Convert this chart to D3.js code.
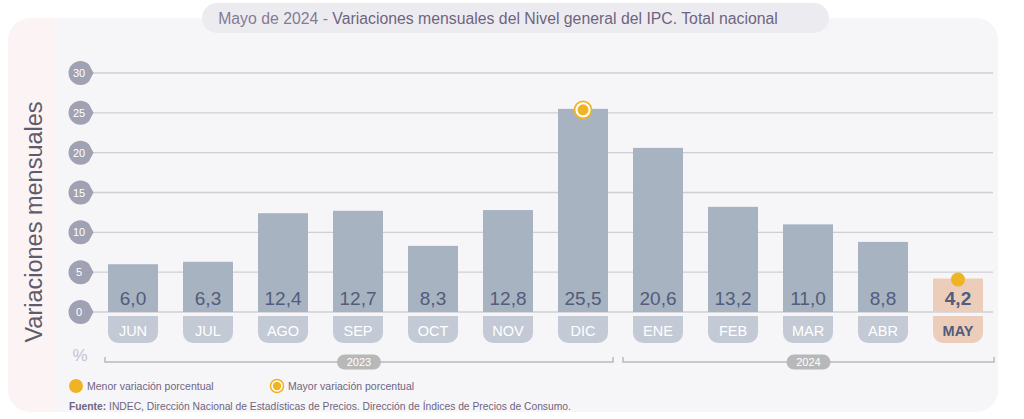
<!DOCTYPE html>
<html>
<head>
<meta charset="utf-8">
<script src="https://cdn.jsdelivr.net/npm/d3@7"></script>
<style>
  html, body { margin: 0; padding: 0; background: #fff; }
  svg { display: block; font-family: "Liberation Sans", Arial, sans-serif; }
</style>
</head>
<body>
<svg id="chart" width="1024" height="419"></svg>
<script>
const months = ['JUN', 'JUL', 'AGO', 'SEP', 'OCT', 'NOV', 'DIC', 'ENE', 'FEB', 'MAR', 'ABR', 'MAY'];
const values = [6.0, 6.3, 12.4, 12.7, 8.3, 12.8, 25.5, 20.6, 13.2, 11.0, 8.8, 4.2];
const yTicks = [0, 5, 10, 15, 20, 25, 30];
const years = [
  { label: '2023', from: 'JUN', to: 'DIC' },
  { label: '2024', from: 'ENE', to: 'MAY' }
];
const minMonth = 'MAY';
const maxMonth = 'DIC';

const svg = d3.select('#chart');
const textCol = '#6f6480';
const fmt = v => d3.format('.1f')(v).replace('.', ',');

// card
svg.append('rect').attr('x', 8).attr('y', 18).attr('width', 990).attr('height', 394)
  .attr('rx', 22).attr('fill', '#fcf4f4');
svg.append('path')
  .attr('d', 'M55,18 H976 A22,22 0 0 1 998,40 V390 A22,22 0 0 1 976,412 H55 Z')
  .attr('fill', '#f6f6f8');

// title pill
svg.append('rect').attr('x', 202).attr('y', 3).attr('width', 627).attr('height', 30)
  .attr('rx', 15).attr('fill', '#ececf0');
const title = svg.append('text').attr('x', 498).attr('y', 23.5).attr('text-anchor', 'middle')
  .attr('font-size', 15.8).attr('fill', textCol);
title.append('tspan').attr('fill', '#857b94').text('Mayo de 2024 - ');
title.append('tspan').text('Variaciones mensuales del Nivel general del IPC. Total nacional');

const x = d3.scaleBand().domain(months).range([95.5, 995.5]).paddingInner(1 / 3).paddingOuter(1 / 6);
const y = d3.scaleLinear().domain([0, 30]).range([312, 73]);

// grid
svg.append('g').selectAll('line').data(yTicks).join('line')
  .attr('x1', 92).attr('x2', 993)
  .attr('y1', d => y(d)).attr('y2', d => y(d))
  .attr('stroke', '#cfcfd4').attr('stroke-width', 1.3);

// tick drops
const tick = svg.append('g').selectAll('g').data(yTicks).join('g')
  .attr('transform', d => `translate(80,${y(d)})`);
tick.append('path')
  .attr('d', 'M13.5,0 L9,-8.5 A12,12 0 1 0 9,8.5 Z')
  .attr('fill', '#a1a1b4');
tick.append('text').attr('x', -1).attr('y', 4).attr('text-anchor', 'middle')
  .attr('font-size', 11).attr('fill', '#fff').text(d => d);

// bars
const bw = x.bandwidth();
const isMin = m => m === minMonth;
svg.append('g').selectAll('rect').data(months).join('rect')
  .attr('x', d => x(d)).attr('width', bw)
  .attr('y', (d, i) => y(values[i])).attr('height', (d, i) => y(0) - y(values[i]))
  .attr('fill', d => isMin(d) ? '#ebcdb9' : '#a8b3c1');

// value labels
svg.append('g').selectAll('text').data(months).join('text')
  .attr('x', d => x(d) + bw / 2).attr('y', 305)
  .attr('text-anchor', 'middle').attr('font-size', 19)
  .attr('font-weight', d => isMin(d) ? 'bold' : 'normal')
  .attr('fill', '#525c7c')
  .text((d, i) => fmt(values[i]));

// month pills
const pr = 10, pTop = 316, pH = 27;
svg.append('g').selectAll('path').data(months).join('path')
  .attr('d', d => {
    const x0 = x(d), x1 = x(d) + bw;
    return `M${x0},${pTop} H${x1} V${pTop + pH - pr} A${pr},${pr} 0 0 1 ${x1 - pr},${pTop + pH} H${x0 + pr} A${pr},${pr} 0 0 1 ${x0},${pTop + pH - pr} Z`;
  })
  .attr('fill', d => isMin(d) ? '#ebcdb9' : '#c3cad6');
svg.append('g').selectAll('text').data(months).join('text')
  .attr('x', d => x(d) + bw / 2).attr('y', 335.5)
  .attr('text-anchor', 'middle').attr('font-size', 14.5)
  .attr('font-weight', d => isMin(d) ? 'bold' : 'normal')
  .attr('fill', d => isMin(d) ? '#525c7c' : '#fff')
  .text(d => d);

// markers
const iMin = months.indexOf(minMonth), iMax = months.indexOf(maxMonth);
svg.append('circle').attr('cx', x(minMonth) + bw / 2).attr('cy', y(values[iMin]) + 1).attr('r', 7)
  .attr('fill', '#f0b323');
svg.append('circle').attr('cx', x(maxMonth) + bw / 2).attr('cy', y(values[iMax]) + 1).attr('r', 8.5)
  .attr('fill', '#fff').attr('stroke', '#f0b323').attr('stroke-width', 1.8);
svg.append('circle').attr('cx', x(maxMonth) + bw / 2).attr('cy', y(values[iMax]) + 1).attr('r', 5.5)
  .attr('fill', '#f0b323');

// % label
svg.append('text').attr('x', 80).attr('y', 361).attr('text-anchor', 'middle')
  .attr('font-size', 17).attr('fill', '#c4c4d0').text('%');

// year brackets
const by = 362;
years.forEach((yr, i) => {
  const x0 = x(yr.from) - (i === 0 ? 3 : 10), x1 = x(yr.to) + bw + (i === 0 ? 5 : 11);
  svg.append('path').attr('d', `M${x0},${by - 5} V${by} H${x1} V${by - 5}`)
    .attr('fill', 'none').attr('stroke', '#b8b8be').attr('stroke-width', 1.5);
  const cx = (x0 + x1) / 2;
  svg.append('rect').attr('x', cx - 22).attr('y', by - 7.5).attr('width', 44).attr('height', 15)
    .attr('rx', 7.5).attr('fill', '#b8b8b8');
  svg.append('text').attr('x', cx).attr('y', by + 4).attr('text-anchor', 'middle')
    .attr('font-size', 11).attr('fill', '#fff').text(yr.label);
});

// y title
svg.append('text').attr('transform', 'translate(42,222) rotate(-90)')
  .attr('text-anchor', 'middle').attr('font-size', 23.5).attr('fill', '#5c5c6c')
  .text('Variaciones mensuales');

// legend
svg.append('circle').attr('cx', 76).attr('cy', 386).attr('r', 7).attr('fill', '#f0b323');
svg.append('text').attr('x', 87).attr('y', 390).attr('font-size', 10.5).attr('fill', textCol)
  .text('Menor variación porcentual');
svg.append('circle').attr('cx', 277).attr('cy', 386).attr('r', 6.5)
  .attr('fill', '#fff').attr('stroke', '#f0b323').attr('stroke-width', 1.5);
svg.append('circle').attr('cx', 277).attr('cy', 386).attr('r', 4.2).attr('fill', '#f0b323');
svg.append('text').attr('x', 288).attr('y', 390).attr('font-size', 10.5).attr('fill', textCol)
  .text('Mayor variación porcentual');

// source
const src = svg.append('text').attr('x', 69).attr('y', 410).attr('font-size', 10.3).attr('fill', textCol);
src.append('tspan').attr('font-weight', 'bold').text('Fuente:');
src.append('tspan').text(' INDEC, Dirección Nacional de Estadísticas de Precios. Dirección de Índices de Precios de Consumo.');
</script>
</body>
</html>
